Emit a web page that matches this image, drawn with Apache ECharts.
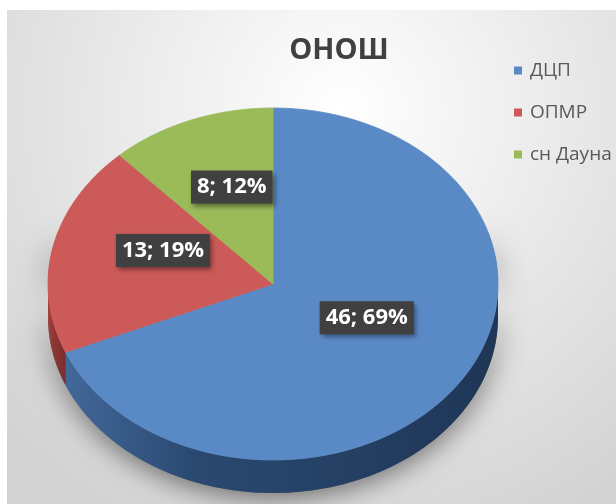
<!DOCTYPE html>
<html>
<head>
<meta charset="utf-8">
<script src="https://cdn.jsdelivr.net/npm/echarts@6/dist/echarts.min.js"></script>
<style>
  html, body { margin: 0; padding: 0; background: #fff; }
  #onosh-pie { width: 616px; height: 504px; }
</style>
</head>
<body>
<div id="onosh-pie"></div>
<script>
const categories = ['ДЦП', 'ОПМР', 'сн Дауна'];
const counts = [46, 13, 8];

const colors = ['#5a8ac6', '#cb5a58', '#9bbb59'];
const sideColors = [
  ['#42679a', '#2a4970', '#1f3656'],
  ['#a4423f', '#8e3735', '#7a2e2d'],
  ['#7a9444', '#6a823a', '#5c7232']
];

const total = counts.reduce((a, b) => a + b, 0);
// top ellipse of the tilted pie + thickness of the side
const pie = {cx: 273, cy: 284, rx: 225, ry: 176, depth: 33};

// angle is measured clockwise from 12 o'clock
function ellipsePt(a, dy) {
  return [pie.cx + pie.rx * Math.sin(a), pie.cy + dy - pie.ry * Math.cos(a)];
}

function arcPts(a0, a1, dy) {
  let pts = [];
  let n = Math.max(2, Math.ceil((a1 - a0) / 0.02));
  for (let k = 0; k <= n; k++) {
    pts.push(ellipsePt(a0 + (a1 - a0) * k / n, dy));
  }
  return pts;
}

function bandPts(a0, a1) {
  return arcPts(a0, a1, 0).concat(arcPts(a0, a1, pie.depth).reverse());
}

function sliceRenderer(idx) {
  return function (params, api) {
    let v = api.value(0);
    let before = 0;
    for (let j = 0; j < idx; j++) before += counts[j];
    let a0 = before / total * Math.PI * 2;
    let a1 = (before + v) / total * Math.PI * 2;
    let children = [];

    if (idx === 0) {
      // soft shadow under the whole front side
      children.push({
        type: 'polygon',
        z2: 0,
        shape: {points: bandPts(Math.PI / 2 - 0.3, Math.PI * 1.5 + 0.3)},
        style: {fill: '#666', shadowBlur: 28, shadowColor: 'rgba(0,0,0,0.55)', shadowOffsetY: 4}
      });
    }

    let lo = Math.max(a0, Math.PI / 2);
    let hi = Math.min(a1, Math.PI * 1.5);
    if (hi > lo) {
      let sc = sideColors[idx];
      children.push({
        type: 'polygon',
        z2: 1,
        shape: {points: bandPts(lo, hi)},
        style: {
          fill: new echarts.graphic.LinearGradient(0, 0, 1, 0, [
            {offset: 0, color: sc[0]},
            {offset: 0.3, color: sc[1]},
            {offset: 1, color: sc[2]}
          ])
        }
      });
    }

    children.push({
      type: 'polygon',
      z2: 10,
      shape: {points: [[pie.cx, pie.cy]].concat(arcPts(a0, a1, 0))},
      style: {fill: colors[idx], stroke: colors[idx], lineWidth: 0.8}
    });

    let mid = (a0 + a1) / 2;
    let pct = Math.round(v / total * 100);
    children.push({
      type: 'text',
      z2: 20,
      x: pie.cx + pie.rx * 0.5 * Math.sin(mid),
      y: pie.cy - 15 - pie.ry * 0.5 * Math.cos(mid),
      style: {
        text: v + '; ' + pct + '%',
        fill: '#fff',
        font: 'bold 22px "Open Sans"',
        align: 'center',
        verticalAlign: 'middle',
        backgroundColor: '#404040',
        padding: [6, 6, 5, 6],
        shadowBlur: 5,
        shadowOffsetX: 2,
        shadowOffsetY: 3,
        shadowColor: 'rgba(0,0,0,0.45)'
      }
    });

    return {type: 'group', children: children};
  };
}

let myChart = echarts.init(document.getElementById('onosh-pie'));

myChart.setOption({
  animation: false,
  backgroundColor: '#fff',
  graphic: [{
    type: 'rect',
    left: 7,
    top: 10,
    z: -10,
    silent: true,
    shape: {width: 609, height: 494},
    style: {
      fill: new echarts.graphic.RadialGradient(0.55, 0.2, 0.95, [
        {offset: 0, color: '#ffffff'},
        {offset: 1, color: '#d2d2d2'}
      ])
    }
  }],
  title: {
    text: 'ОНОШ',
    left: 339,
    top: 36,
    textAlign: 'center',
    padding: 0,
    textStyle: {
      fontFamily: 'Open Sans',
      fontWeight: 'bold',
      fontSize: 29,
      color: '#404040'
    }
  },
  legend: {
    orient: 'vertical',
    left: 514,
    top: 61,
    padding: 0,
    itemWidth: 8,
    itemHeight: 8,
    itemGap: 23,
    icon: 'rect',
    data: categories,
    textStyle: {
      fontFamily: 'Open Sans',
      fontSize: 19,
      color: '#595959',
      padding: [0, 0, 0, 3]
    }
  },
  series: categories.map(function (name, i) {
    return {
      type: 'custom',
      name: name,
      coordinateSystem: 'none',
      itemStyle: {color: colors[i]},
      renderItem: sliceRenderer(i),
      data: [[counts[i]]]
    };
  })
});
</script>
</body>
</html>
